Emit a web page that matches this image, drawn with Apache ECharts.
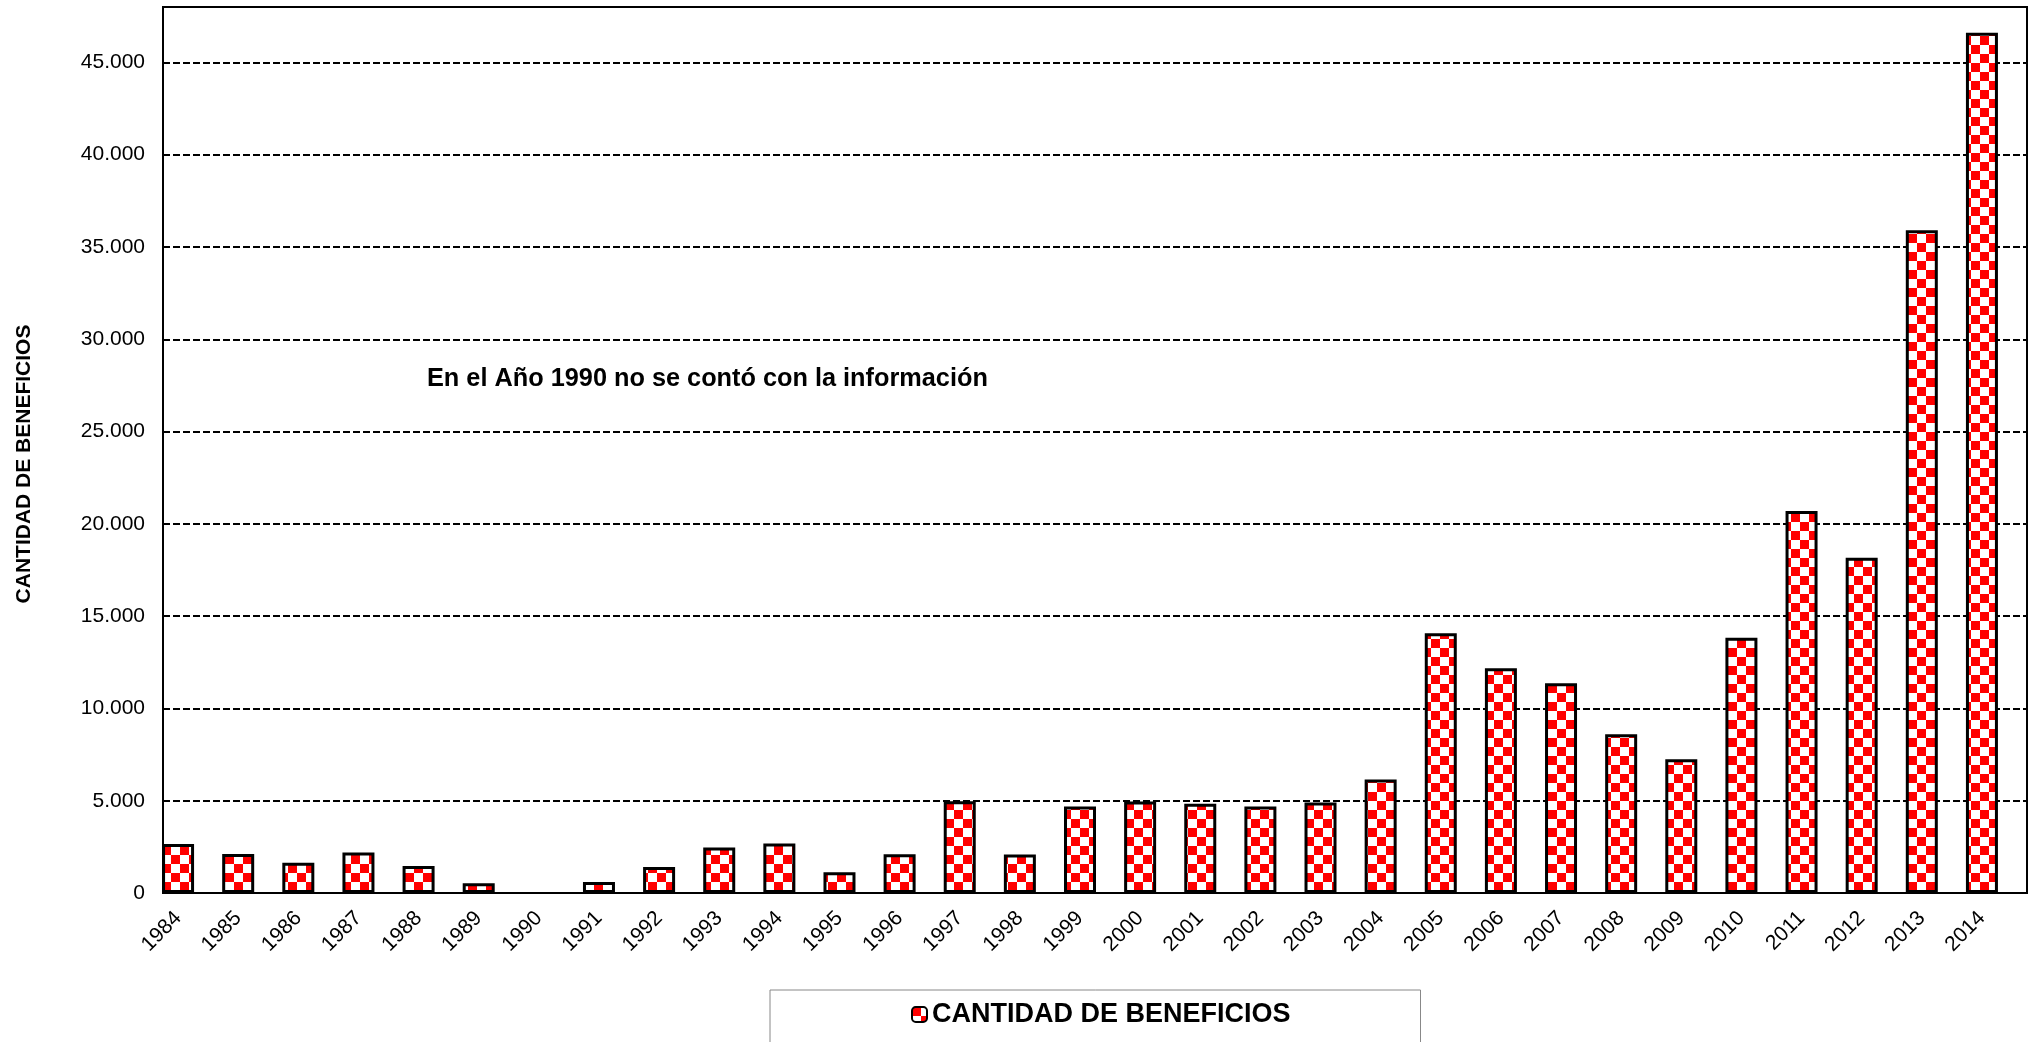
<!DOCTYPE html>
<html>
<head>
<meta charset="utf-8">
<title>Cantidad de beneficios 1984-2014</title>
<script src="https://cdn.jsdelivr.net/npm/echarts@6/dist/echarts.min.js"></script>
<style>
  html, body { margin: 0; padding: 0; background: #fff; }
  #chart { width: 2042px; height: 1042px; }
</style>
</head>
<body>
<div id="chart"></div>
<script>
// Years on the category axis
const years = ['1984','1985','1986','1987','1988','1989','1990','1991','1992','1993','1994',
  '1995','1996','1997','1998','1999','2000','2001','2002','2003','2004','2005','2006',
  '2007','2008','2009','2010','2011','2012','2013','2014'];

// Number of benefits per year (1990: no data)
const beneficios = [2650, 2110, 1640, 2200, 1460, 525, null, 600, 1410, 2460, 2680,
  1120, 2100, 4970, 2090, 4690, 4960, 4830, 4690, 4900, 6150, 14070, 12170,
  11360, 8600, 7240, 13830, 20690, 18160, 35910, 46600];

const seriesName = 'CANTIDAD DE BENEFICIOS';
const yTitle = 'CANTIDAD DE BENEFICIOS';
const note = 'En el Año 1990 no se contó con la información';

const yMin = 0, yMax = 48000, yStep = 5000;
const FONT = '"Liberation Sans", Arial, sans-serif';

// Red / white checkerboard fill for the bars
function checkerboard(size) {
  const c = document.createElement('canvas');
  c.width = size * 2; c.height = size * 2;
  const g = c.getContext('2d');
  g.fillStyle = '#ffffff';
  g.fillRect(0, 0, size * 2, size * 2);
  g.fillStyle = '#ff0000';
  g.fillRect(0, 0, size, size);
  g.fillRect(size, size, size, size);
  return c;
}
const checker = { image: checkerboard(9), repeat: 'repeat' };

function thousands(v) {
  return String(v).replace(/\B(?=(\d{3})+(?!\d))/g, '.');
}

const chart = echarts.init(document.getElementById('chart'), null, { renderer: 'canvas' });

chart.setOption({
  backgroundColor: '#ffffff',
  animation: false,
  textStyle: { fontFamily: FONT },
  grid: [
    // bars and year labels
    { left: 148, right: 30, top: 7, bottom: 149 },
    // plot frame, value axis and dashed gridlines
    { left: 163, right: 15, top: 7, bottom: 149, show: true,
      borderColor: '#000', borderWidth: 2, backgroundColor: 'transparent' }
  ],
  xAxis: [
    { gridIndex: 0, type: 'category', data: years, boundaryGap: true,
      axisLine: { show: false }, axisTick: { show: false },
      axisLabel: { interval: 0, rotate: 45, margin: 22, color: '#000',
        fontSize: 21, fontFamily: FONT } },
    { gridIndex: 1, type: 'category', show: false }
  ],
  yAxis: [
    { gridIndex: 0, type: 'value', min: yMin, max: yMax, show: false,
      splitLine: { show: false } },
    { gridIndex: 1, type: 'value', min: yMin, max: yMax, interval: yStep,
      axisLine: { show: true, lineStyle: { color: '#000', width: 2 } },
      axisTick: { show: false },
      axisLabel: { margin: 18, color: '#000', fontSize: 21, fontFamily: FONT,
        showMaxLabel: false, formatter: v => thousands(v) },
      splitLine: { show: true, showMinLine: false, showMaxLine: false,
        lineStyle: { color: '#000', width: 2, type: [7, 3] } } }
  ],
  legend: {
    data: [seriesName],
    left: 770, top: 990,
    padding: [11, 130, 40, 141],
    borderColor: '#888', borderWidth: 1,
    itemWidth: 15, itemHeight: 15,
    textStyle: { fontSize: 27, fontWeight: 'bold', color: '#000', fontFamily: FONT }
  },
  graphic: [
    { type: 'text', x: 427, y: 379, silent: true,
      style: { text: note, font: 'bold 25.3px ' + FONT, fill: '#000',
        align: 'left', verticalAlign: 'middle' } },
    { type: 'text', x: 24, y: 464, rotation: Math.PI / 2, silent: true,
      style: { text: yTitle, font: 'bold 21px ' + FONT, fill: '#000',
        align: 'center', verticalAlign: 'middle' } }
  ],
  series: [
    { name: seriesName, type: 'bar', xAxisIndex: 0, yAxisIndex: 0,
      data: beneficios, barWidth: 32, z: 3,
      itemStyle: { color: checker, borderColor: '#000', borderWidth: 3 } }
  ]
});
</script>
</body>
</html>
